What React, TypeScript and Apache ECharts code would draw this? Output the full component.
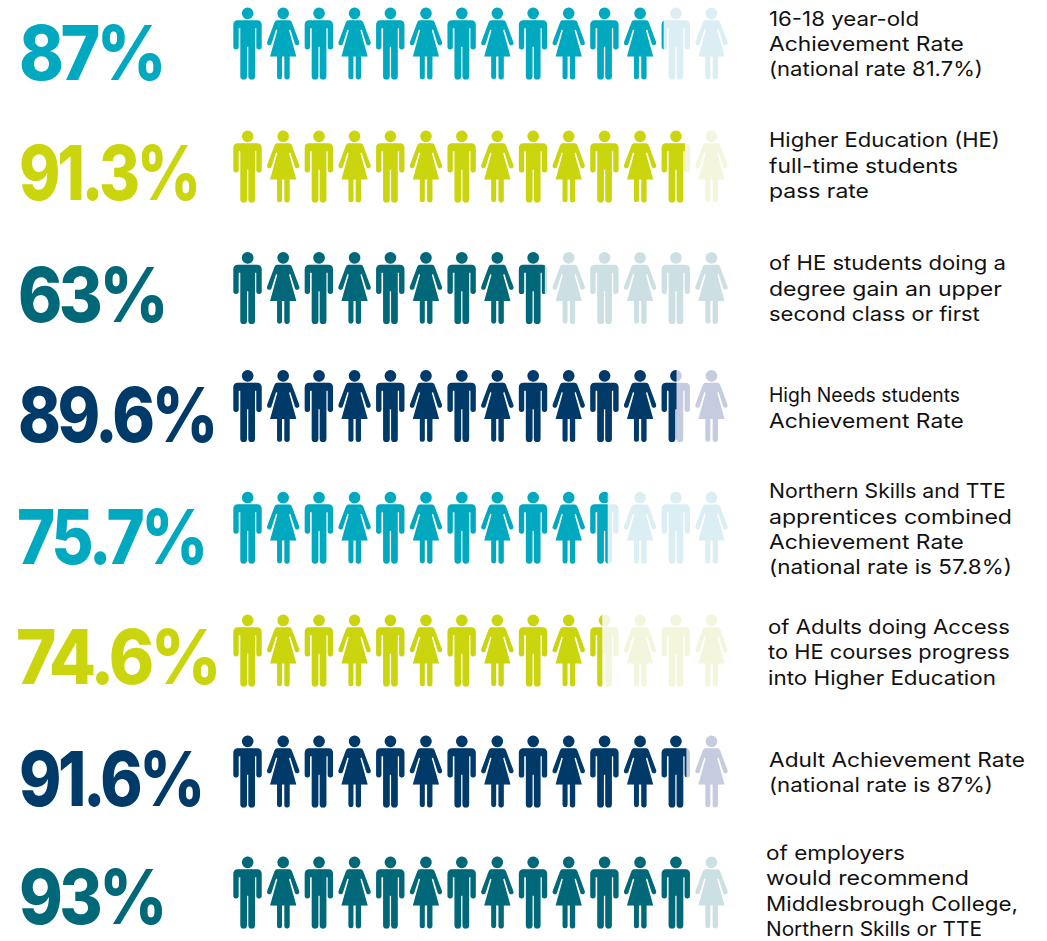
import React, { useEffect, useRef } from "react";
import * as echarts from "echarts";

// Headline percentages, one per row, top to bottom.
const rates = [87, 91.3, 63, 89.6, 75.7, 74.6, 91.6, 93];

const fullColours = ["#00A9BF", "#CBD50E", "#006878", "#003A68", "#00A9BF", "#CBD50E", "#003A68", "#006878"];
const paleColours = ["#DAEEF4", "#F3F6DC", "#CCDFE3", "#C5CCDF", "#DAEEF4", "#F3F6DC", "#C5CCDF", "#CCDFE3"];

const captions = [
  ["16-18 year-old", "Achievement Rate", "(national rate 81.7%)"],
  ["Higher Education (HE)", "full-time students", "pass rate"],
  ["of HE students doing a", "degree gain an upper", "second class or first"],
  ["High Needs students", "Achievement Rate"],
  ["Northern Skills and TTE", "apprentices combined", "Achievement Rate", "(national rate is 57.8%)"],
  ["of Adults doing Access", "to HE courses progress", "into Higher Education"],
  ["Adult Achievement Rate", "(national rate is 87%)"],
  ["of employers", "would recommend", "Middlesbrough College,", "Northern Skills or TTE"],
];

// Layout of the rows, in page pixels.
const rowCentres = [43.5, 166.5, 288, 406, 527.7, 650.5, 771.5, 892.5];
const rateCentres = [52, 173, 294, 415, 536, 656, 778, 896];
const rateLefts = [19, 19, 18, 18, 17, 16, 19, 19];
const rateWidths = [144, 179, 147, 197, 188, 202, 183, 145];
const captionLefts = [769, 769, 769, 769, 769, 768, 769, 766];
const captionTops = [18.7, 140, 263, 395, 491, 627, 760, 852.7];
const captionWidths = [
  [150, 195, 214],
  [231, 189, 100],
  [237, 233, 211],
  [191, 195],
  [237, 243, 195, 243],
  [242, 242, 228],
  [256, 224],
  [139, 203, 252, 216],
];
const CAPTION_LINE = 25.3;

const ICON_COUNT = 14;
const ICON_PITCH = 35.69;
const FIRST_ICON_CENTRE = 14.5;
const ICON_HEIGHT = 72;
const UNIT = ICON_HEIGHT / 216;
const MAN_WIDTH = 85 * UNIT;
const WOMAN_WIDTH = 97 * UNIT;

const MAN_PATH =
  "M25.5 17.5A17.5 17.5 0 0 1 60.5 17.5A17.5 17.5 0 0 1 25.5 17.5Z" +
  "M14 38H71Q85 38 85 52V118A8 8 0 0 1 69 118V62H65V206A10 10 0 0 1 45 206V118H41V206A10 10 0 0 1 21 206V62H16V118A8 8 0 0 1 0 118V52Q0 38 14 38Z";
const WOMAN_PATH =
  "M31 17.5A17.5 17.5 0 0 1 66 17.5A17.5 17.5 0 0 1 31 17.5Z" +
  "M30 38H67Q72 38 74.5 44L97 104A7 7 0 0 1 84 109L70 66L66 68L88 146H68V207A8 8 0 0 1 52 207V146H45V207A7.5 7.5 0 0 1 30 207V146H9L31 68L27 66L13 109A7 7 0 0 1 0 104L22.5 44Q25 38 30 38Z";

// One row of alternating figures in the given colour.
function figures(left: number, centreY: number, fill: string) {
  const top = centreY - ICON_HEIGHT / 2;
  return Array.from({ length: ICON_COUNT }, (_, i) => {
    const isMan = i % 2 === 0;
    const width = isMan ? MAN_WIDTH : WOMAN_WIDTH;
    const cx = left + FIRST_ICON_CENTRE + i * ICON_PITCH;
    return {
      type: "path",
      shape: {
        pathData: isMan ? MAN_PATH : WOMAN_PATH,
        layout: "cover",
        x: cx - width / 2,
        y: top,
        width,
        height: ICON_HEIGHT,
      },
      style: { fill },
    };
  });
}

function renderRow(params: any, api: any) {
  const row = params.dataIndex;
  const [fillX, centreY] = api.coord([api.value(0), api.value(1)]);
  const left = api.coord([0, api.value(1)])[0];
  return {
    type: "group",
    children: [
      { type: "group", children: figures(left, centreY, paleColours[row]) },
      {
        type: "group",
        clipPath: {
          type: "rect",
          shape: { x: left, y: centreY - 50, width: fillX - left, height: 100 },
        },
        children: figures(left, centreY, fullColours[row]),
      },
    ],
  };
}

const measureCtx = document.createElement("canvas").getContext("2d")!;

// Horizontal scale that brings a string to its target width, given any tracking applied by CSS.
function fitScale(text: string, font: string, target: number, tracking = 0) {
  measureCtx.font = font;
  return target / (measureCtx.measureText(text).width + tracking * text.length);
}

const RATE_FONT = "800 76px Inter";
const RATE_TRACKING = -4;
const CAPTION_FONT = "400 20px Inter";

export default function App() {
  const ref = useRef<HTMLDivElement>(null);
  useEffect(() => {
    const chart = echarts.init(ref.current!, undefined, { renderer: "svg" });
    const rateTexts = rates.map((rate, i) => {
      const text = `${rate}%`;
      return {
        type: "text",
        x: rateLefts[i],
        y: rateCentres[i],
        scaleX: fitScale(text, RATE_FONT, rateWidths[i], RATE_TRACKING),
        style: {
          text,
          fill: fullColours[i],
          font: RATE_FONT,
          textAlign: "left",
          textVerticalAlign: "middle",
        },
      };
    });
    const captionTexts = captions.flatMap((lines, i) =>
      lines.map((line, j) => ({
        type: "text",
        x: captionLefts[i],
        y: captionTops[i] + j * CAPTION_LINE,
        scaleX: fitScale(line, CAPTION_FONT, captionWidths[i][j]),
        style: {
          text: line,
          fill: "#111111",
          font: CAPTION_FONT,
          textAlign: "left",
          textVerticalAlign: "middle",
        },
      }))
    );
    chart.setOption({
      animation: false,
      grid: { left: 233, width: 495, top: 0, height: 941 },
      xAxis: { type: "value", min: 0, max: 100, show: false },
      yAxis: { type: "value", min: 0, max: 941, inverse: true, show: false },
      series: [
        {
          type: "custom",
          renderItem: renderRow,
          clip: false,
          data: rates.map((rate, i) => [rate, rowCentres[i]]),
        },
      ],
      graphic: [...rateTexts, ...captionTexts],
    });
    return () => chart.dispose();
  }, []);
  return (
    <>
      {/* Tighter tracking on the large percentages only */}
      <style>{`text[style*="76px"]{letter-spacing:${RATE_TRACKING}px}`}</style>
      <div ref={ref} style={{ position: "absolute", left: 0, top: 0, width: 1047, height: 941, background: "#fff" }} />
    </>
  );
}
